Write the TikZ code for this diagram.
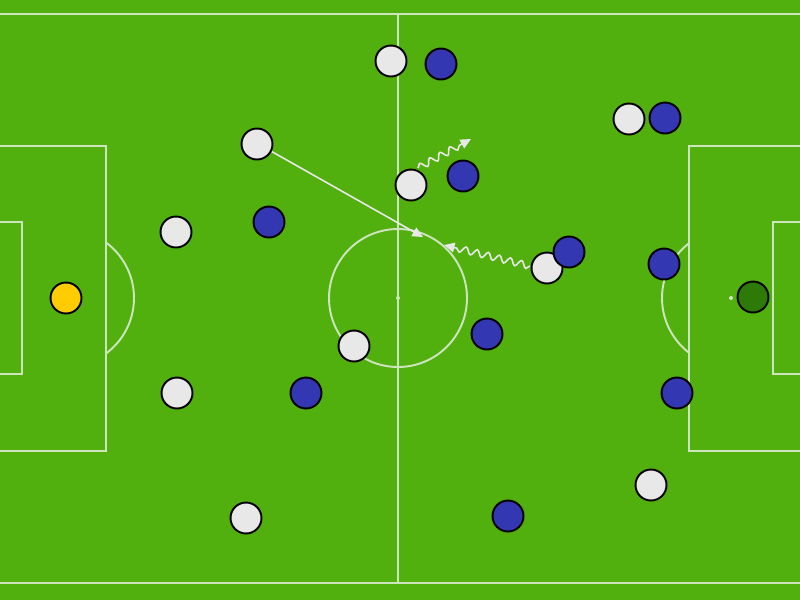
\documentclass[tikz,border=0pt]{standalone}
\usepackage{xcolor}
\usetikzlibrary{arrows.meta,decorations.pathmorphing}
\definecolor{pitch}{RGB}{82,176,14}
\definecolor{fieldline}{RGB}{205,228,190}
\definecolor{shirtw}{RGB}{232,232,232}
\definecolor{shirtb}{RGB}{51,56,178}
\definecolor{keepery}{RGB}{255,204,0}
\definecolor{keeperg}{RGB}{46,122,8}

\begin{document}
\begin{tikzpicture}[x=0.02cm,y=-0.02cm,
	fline/.style={fieldline, line width=1.1pt},
	player/.style={circle, draw=black, line width=1.1pt, minimum size=0.62cm, inner sep=0pt},
	wpl/.style={player, fill=shirtw},
	bpl/.style={player, fill=shirtb},
	pass/.style={draw=shirtw, line width=0.9pt, -{Triangle[length=6pt,width=5.5pt]}},
	run/.style={draw=shirtw, line width=0.9pt, -{Triangle[length=6pt,width=5.5pt]},
		decorate, decoration={snake, amplitude=1.9pt, segment length=6.5pt, post length=6pt}}]
	% pitch
	\fill[pitch] (0,0) rectangle (800,600);
	\useasboundingbox (0,0) rectangle (800,600);
	
	\draw[fline] (-10,14) rectangle (810,583);
	\draw[fline] (398,14) -- (398,583);
	\draw[fline] (398,298) circle[radius=69];
	\fill[fieldline] (398,298) circle[radius=2];
	
	% left end
	\draw[fline] (-10,146) -- (106,146) -- (106,451) -- (-10,451);
	\draw[fline] (-10,222) -- (22,222) -- (22,374) -- (-10,374);
	\begin{scope}
		\clip (106,0) rectangle (398,600);
		\draw[fline] (65,298) circle[radius=69];
	\end{scope}
	\fill[fieldline] (65,298) circle[radius=2];
	
	% right end
	\draw[fline] (810,146) -- (689,146) -- (689,451) -- (810,451);
	\draw[fline] (810,222) -- (773,222) -- (773,374) -- (810,374);
	\begin{scope}
		\clip (398,0) rectangle (689,600);
		\draw[fline] (731,298) circle[radius=69];
	\end{scope}
	\fill[fieldline] (731,298) circle[radius=2];
	
	% ball and moves
	\node[circle, draw=gray, fill=shirtw, line width=0.5pt, minimum size=0.11cm, inner sep=0pt] (ball) at (269,150) {};
	\coordinate (passend) at (423,237);
	\coordinate (run1a) at (418,168);
	\coordinate (run1b) at (471,139);
	\coordinate (run2a) at (530,266);
	\coordinate (run2b) at (444,245);
	
	\draw[pass] (ball) -- (passend);
	\draw[run] (run1a) -- (run1b);
	\draw[run] (run2a) -- (run2b);
	
	% white team
	\node[player, fill=keepery] (gkw) at (66,298) {};
	\node[wpl] (w1) at (391,61) {};
	\node[wpl] (w2) at (257,144) {};
	\node[wpl] (w3) at (411,185) {};
	\node[wpl] (w4) at (176,232) {};
	\node[wpl] (w5) at (177,393) {};
	\node[wpl] (w6) at (354,346) {};
	\node[wpl] (w7) at (246,518) {};
	\node[wpl] (w8) at (547,268) {};
	\node[wpl] (w9) at (629,119) {};
	\node[wpl] (w10) at (651,485) {};
	
	% blue team
	\node[player, fill=keeperg] (gkb) at (753,297) {};
	\node[bpl] (b1) at (441,64) {};
	\node[bpl] (b2) at (665,118) {};
	\node[bpl] (b3) at (463,176) {};
	\node[bpl] (b4) at (269,222) {};
	\node[bpl] (b5) at (569,252) {};
	\node[bpl] (b6) at (664,264) {};
	\node[bpl] (b7) at (487,334) {};
	\node[bpl] (b8) at (306,393) {};
	\node[bpl] (b9) at (677,393) {};
	\node[bpl] (b10) at (508,516) {};
\end{tikzpicture}
\end{document}
